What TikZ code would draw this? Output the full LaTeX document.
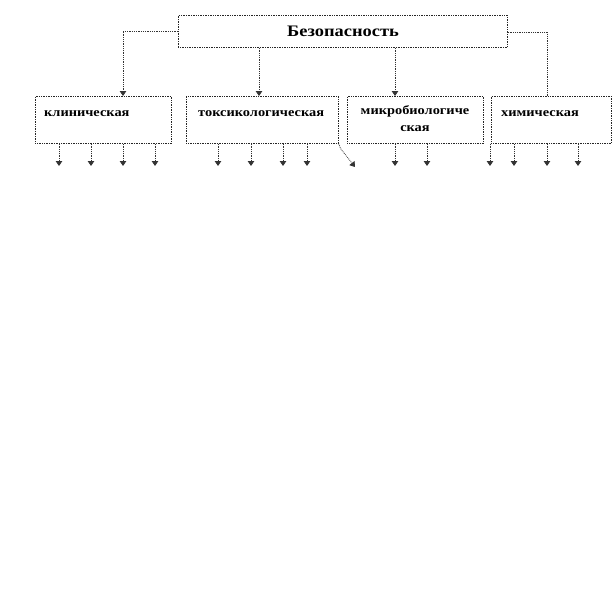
\documentclass[tikz,border=0pt]{standalone}
\usepackage{fontspec}
\setmainfont{Liberation Serif}
\usetikzlibrary{arrows.meta}
\newcommand{\wide}[1]{\scalebox{1.15}[1]{#1}}
\begin{document}
\begin{tikzpicture}[x=1pt,y=-1pt,
  box/.style={draw=black!85, densely dotted, line width=0.7pt, inner sep=0pt, anchor=north west},
  lbl/.style={font=\fontsize{12.5}{17}\selectfont\bfseries, inner sep=0pt},
  conn/.style={draw=black!80, densely dotted, line width=0.8pt},
  arr/.style={conn, -{Triangle[length=5pt,width=6.5pt]}}
]
\useasboundingbox (0,0) rectangle (614,595);
% top box
\node[box, minimum width=329pt, minimum height=32pt] (top) at (178,15) {};
\node[font=\fontsize{16}{18}\selectfont\bfseries, inner sep=0pt] (toplbl) at (343,31) {\wide{Безопасность}};
% second-level boxes
\node[box, minimum width=136pt, minimum height=47pt] (b1) at (35,96) {};
\node[box, minimum width=152pt, minimum height=47pt] (b2) at (186,96) {};
\node[box, minimum width=136pt, minimum height=47pt] (b3) at (347,96) {};
\node[box, minimum width=120pt, minimum height=47pt] (b4) at (491,96) {};
\node[lbl, anchor=west] (l1) at (44,114) {\wide{клиническая}};
\node[lbl, anchor=west] (l2) at (198,114) {\wide{токсикологическая}};
\node[lbl, align=center] (l3) at (415,119) {\wide{микробиологиче}\\\wide{ская}};
\node[lbl, anchor=west] (l4) at (501,114) {\wide{химическая}};
% connectors from top box
\coordinate (c1) at (123,31);
\draw[arr] (top.west |- c1) -- (c1) -- (c1 |- b1.north);
\coordinate (c2) at (259,47);
\draw[arr] (c2 |- top.south) -- (c2 |- b2.north);
\coordinate (c3) at (395,47);
\draw[arr] (c3 |- top.south) -- (c3 |- b3.north);
\coordinate (c4) at (547,32);
\draw[conn] (top.east |- c4) -- (c4) -- (c4 |- b4.north);
% lower arrows
\foreach \x [count=\i] in {59,91,123,155}{
  \coordinate (d1\i) at (\x,166);
  \draw[arr] (d1\i |- b1.south) -- (d1\i);
}
\foreach \x [count=\i] in {218,251,283,307}{
  \coordinate (d2\i) at (\x,166);
  \draw[arr] (d2\i |- b2.south) -- (d2\i);
}
\coordinate (dd) at (355,167);
\draw[arr] (b2.south east) -- ++(2,5) -- (dd);
\foreach \x [count=\i] in {395,427}{
  \coordinate (d3\i) at (\x,166);
  \draw[arr] (d3\i |- b3.south) -- (d3\i);
}
\foreach \x [count=\i] in {490,514,547,578}{
  \coordinate (d4\i) at (\x,166);
  \draw[arr] (d4\i |- b4.south) -- (d4\i);
}
\end{tikzpicture}
\end{document}
